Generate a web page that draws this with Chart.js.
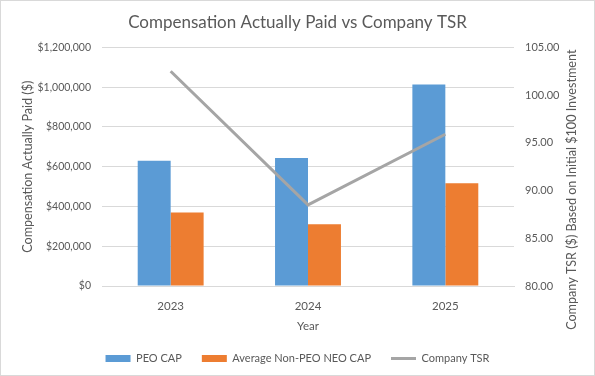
<!DOCTYPE html>
<html>
<head>
<meta charset="utf-8">
<script src="https://cdn.jsdelivr.net/npm/chart.js@4"></script>
<style>
  html, body { margin: 0; padding: 0; background: #fff; }
  #wrap { position: relative; width: 593px; height: 374px; border: 1px solid #d9d9d9; }
</style>
</head>
<body>
<div id="wrap"><canvas id="capChart" width="593" height="374"></canvas></div>
<script>
// chart data
const years = ["2023", "2024", "2025"];
const peoCap = [630000, 644000, 1013000];
const avgNeoCap = [370000, 310000, 517000];
const companyTsr = [102.5, 88.5, 95.9];

const textColor = "#595959";
const gridColor = "#d9d9d9";
const rightTitle = "Company TSR ($) Based on Initial $100 Investment";
Chart.defaults.font.family = "Lato, 'Open Sans', sans-serif";
Chart.defaults.color = textColor;

function money(v) {
    return "$" + Number(v).toLocaleString("en-US");
}

// right axis title reads bottom-to-top like the left one
const rightTitlePlugin = {
    id: "rightTitle",
    afterDraw(chart) {
        let c = chart.ctx;
        let area = chart.chartArea;
        c.save();
        c.translate(571, (area.top + area.bottom) / 2 + 23);
        c.rotate(-Math.PI / 2);
        c.font = "12.6px Lato, 'Open Sans', sans-serif";
        c.fillStyle = textColor;
        c.textAlign = "center";
        c.textBaseline = "middle";
        c.fillText(rightTitle, 0, 0);
        c.restore();
    }
};

let ctx = document.getElementById("capChart").getContext("2d");
new Chart(ctx, {
    type: "bar",
    data: {
        labels: years,
        datasets: [
            {
                type: "line",
                label: "Company TSR",
                data: companyTsr,
                yAxisID: "y1",
                borderColor: "#a5a5a5",
                backgroundColor: "#a5a5a5",
                borderWidth: 3,
                pointRadius: 0,
                tension: 0,
                order: 0
            },
            {
                label: "PEO CAP",
                data: peoCap,
                yAxisID: "y",
                backgroundColor: "#5b9bd5",
                order: 1
            },
            {
                label: "Average Non-PEO NEO CAP",
                data: avgNeoCap,
                yAxisID: "y",
                backgroundColor: "#ed7d31",
                order: 1
            }
        ]
    },
    plugins: [rightTitlePlugin],
    options: {
        responsive: false,
        animation: false,
        layout: { padding: { left: 0, right: 0, top: 7, bottom: 1 } },
        datasets: {
            bar: { barPercentage: 1, categoryPercentage: 0.48 }
        },
        plugins: {
            title: {
                display: true,
                text: "Compensation Actually Paid vs Company TSR",
                font: { size: 17, weight: "normal" },
                color: textColor,
                padding: { top: 4, bottom: 15 }
            },
            legend: {
                position: "bottom",
                labels: {
                    usePointStyle: true,
                    pointStyleWidth: 25,
                    boxHeight: 7,
                    font: { size: 11 },
                    padding: 20,
                    sort: (a, b) => {
                        let rank = { "PEO CAP": 0, "Average Non-PEO NEO CAP": 1, "Company TSR": 2 };
                        return rank[a.text] - rank[b.text];
                    },
                    generateLabels: chart => {
                        let items = Chart.defaults.plugins.legend.labels.generateLabels(chart);
                        items.forEach(it => {
                            it.pointStyle = it.text === "Company TSR" ? "line" : "rect";
                            if (it.text !== "Company TSR") it.lineWidth = 0;
                        });
                        return items;
                    }
                }
            },
            tooltip: { enabled: false }
        },
        scales: {
            x: {
                grid: { display: false },
                border: { color: gridColor },
                ticks: { font: { size: 11.5 }, padding: 5 },
                title: { display: true, text: "Year", font: { size: 11.5 }, padding: { top: 0, bottom: 0 } },
                afterFit: s => { s.height = 47; }
            },
            y: {
                position: "left",
                min: 0,
                max: 1200000,
                ticks: { stepSize: 200000, callback: v => money(v), font: { size: 10.5 }, padding: 11 },
                grid: { color: gridColor, drawTicks: false },
                border: { display: false },
                title: { display: true, text: "Compensation Actually Paid ($)", font: { size: 12.6 }, padding: { top: 19 } },
                afterFit: s => { s.width = 101; }
            },
            y1: {
                position: "right",
                min: 80,
                max: 105,
                ticks: { stepSize: 5, callback: v => Number(v).toFixed(2), font: { size: 11 }, padding: 11 },
                grid: { display: false, drawTicks: false },
                border: { display: false },
                afterFit: s => { s.width = 80; }
            }
        }
    }
});
</script>
</body>
</html>
